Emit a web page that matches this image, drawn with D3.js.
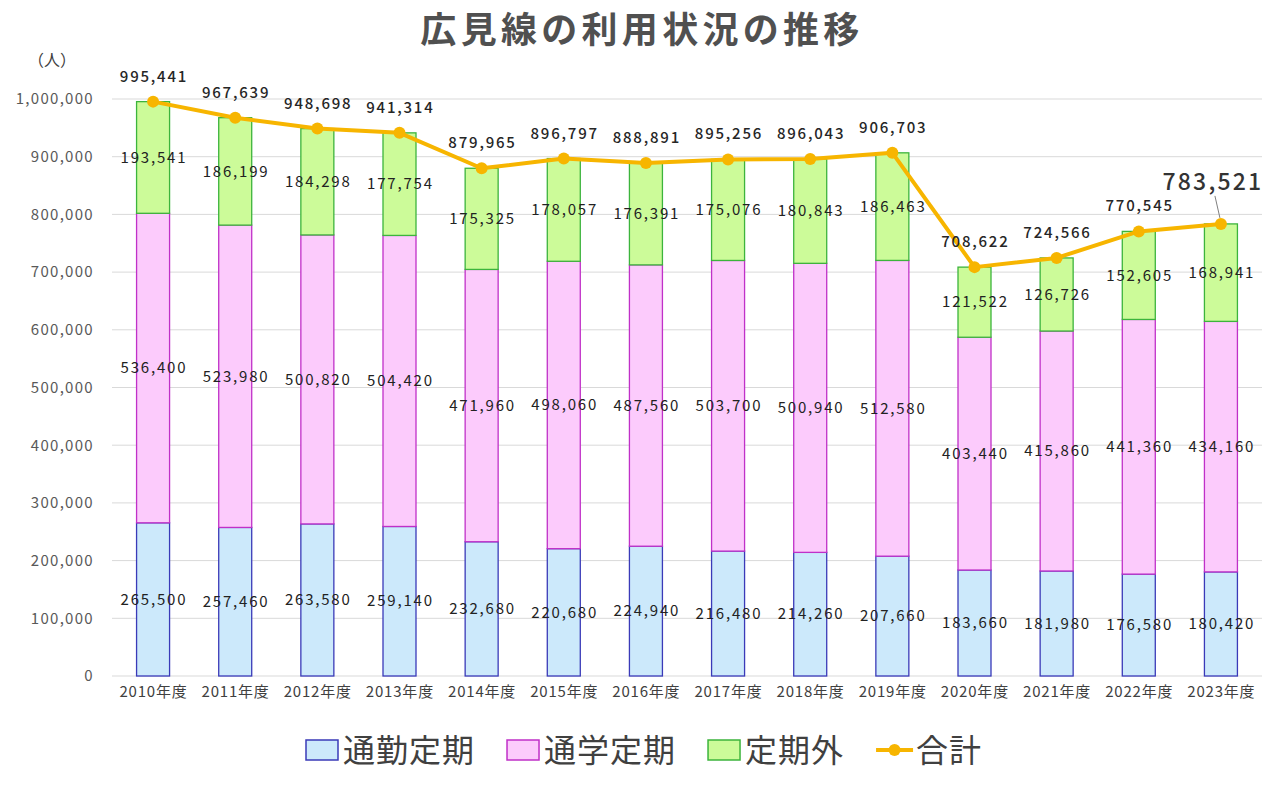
<!DOCTYPE html>
<html><head><meta charset="utf-8">
<script src="https://cdn.jsdelivr.net/npm/d3@7"></script>
<style>body{margin:0;background:#fff;}svg{display:block;}text{font-family:"Noto Sans CJK JP","Noto Sans",sans-serif;}</style>
</head><body><svg id="c" width="1280" height="786"></svg>
<script>
const years = ["2010年度","2011年度","2012年度","2013年度","2014年度","2015年度","2016年度","2017年度","2018年度","2019年度","2020年度","2021年度","2022年度","2023年度"];
const commute = [265500,257460,263580,259140,232680,220680,224940,216480,214260,207660,183660,181980,176580,180420];
const school = [536400,523980,500820,504420,471960,498060,487560,503700,500940,512580,403440,415860,441360,434160];
const nonPass = [193541,186199,184298,177754,175325,178057,176391,175076,180843,186463,121522,126726,152605,168941];
const total = [995441,967639,948698,941314,879965,896797,888891,895256,896043,906703,708622,724566,770545,783521];
const yTicks = [0,100000,200000,300000,400000,500000,600000,700000,800000,900000,1000000];
const seriesNames = ["通勤定期","通学定期","定期外","合計"];

(function(){
const svg = d3.select("#c");
const pLeft = 112, pRight = 1262, pTop = 99, pBottom = 676;
const p = 1 - 34/((pRight-pLeft)/years.length);
const x = d3.scaleBand().domain(years).range([pLeft,pRight]).paddingInner(p).paddingOuter(p/2);
const y = d3.scaleLinear().domain([0,1000000]).range([pBottom,pTop]);
const fmt = d3.format(",");
const LS = 1.8;

// grid
svg.append("g").selectAll("line").data(yTicks).join("line")
  .attr("x1",pLeft).attr("x2",pRight).attr("y1",d=>y(d)).attr("y2",d=>y(d))
  .attr("stroke","#d9d9d9").attr("stroke-width",1);

// y axis labels
const yAxis = svg.append("g").attr("transform",`translate(${pLeft},0)`)
  .call(d3.axisLeft(y).tickValues(yTicks).tickFormat(fmt).tickSize(0).tickPadding(18));
yAxis.select(".domain").remove();
yAxis.selectAll("text").attr("font-size",15).attr("letter-spacing",1.3).attr("fill","#595959").style("font-family","'Noto Sans CJK JP'");

// x axis labels
const xAxis = svg.append("g").attr("transform",`translate(0,${pBottom})`)
  .call(d3.axisBottom(x).tickSize(0).tickPadding(10));
xAxis.select(".domain").remove();
xAxis.selectAll("text").attr("font-size",15).attr("letter-spacing",0.8).attr("dx",0.4).attr("fill","#404040").style("font-family","'Noto Sans CJK JP'");

// stacked bars
const rows = years.map((yr,i)=>({yr, commute:commute[i], school:school[i], nonPass:nonPass[i]}));
const keys = ["commute","school","nonPass"];
const fills = {commute:"#cce9fb", school:"#fccbfc", nonPass:"#ccfb99"};
const strokes = {commute:"#3a3ab8", school:"#c030c8", nonPass:"#3cb43c"};
const stack = d3.stack().keys(keys)(rows);
stack.forEach(s=>{
  svg.append("g").selectAll("rect").data(s).join("rect")
    .attr("x",d=>x(d.data.yr)+0.5).attr("width",x.bandwidth()-1)
    .attr("y",d=>y(d[1])).attr("height",d=>y(d[0])-y(d[1]))
    .attr("fill",fills[s.key]).attr("stroke",strokes[s.key]).attr("stroke-width",1.3);
});
stack.forEach(s=>{
  svg.append("g").selectAll("text").data(s).join("text")
    .attr("x",d=>x(d.data.yr)+x.bandwidth()/2+LS/2).attr("y",d=>y((d[0]+d[1])/2))
    .attr("dy","0.35em").attr("text-anchor","middle").attr("font-size",15).attr("letter-spacing",LS).attr("fill","#222")
    .text(d=>fmt(d.data[s.key]));
});

// total line
const cx = i=>x(years[i])+x.bandwidth()/2;
const line = d3.line().x((d,i)=>cx(i)).y(d=>y(d));
svg.append("path").datum(total).attr("d",line).attr("fill","none").attr("stroke","#f7b500").attr("stroke-width",4).attr("stroke-linejoin","round");
svg.append("g").selectAll("circle").data(total).join("circle")
  .attr("cx",(d,i)=>cx(i)).attr("cy",d=>y(d)).attr("r",6).attr("fill","#f7b500");
const last = total.length-1;
svg.append("g").selectAll("text").data(total.slice(0,last)).join("text")
  .attr("x",(d,i)=>cx(i)+LS/2).attr("y",d=>y(d)-20).attr("text-anchor","middle")
  .attr("font-size",15).attr("font-weight",500).attr("letter-spacing",LS).attr("fill","#262626").text(d=>fmt(d));
// last total label with leader
svg.append("line").attr("x1",cx(last)-6).attr("y1",y(total[last])-28).attr("x2",cx(last)-1).attr("y2",y(total[last])-6)
  .attr("stroke","#808080").attr("stroke-width",1);
svg.append("text").attr("x",cx(last)-8).attr("y",y(total[last])-34).attr("text-anchor","middle")
  .attr("font-size",23).attr("font-weight",500).attr("letter-spacing",2.2).attr("fill","#333").text(fmt(total[last]));

// y unit
svg.append("text").attr("x",52).attr("y",66).attr("text-anchor","middle").attr("font-size",16).attr("fill","#404040").text("（人）");

// title
svg.append("text").attr("x",642).attr("y",43).attr("text-anchor","middle").attr("font-size",36).attr("font-weight",700)
  .attr("letter-spacing",4.3).attr("fill","#505050").text("広見線の利用状況の推移");

// legend
const lg = svg.append("g");
let lx = 306; const ly = 750;
const legendStyles = [
  {fill:fills.commute, stroke:strokes.commute},
  {fill:fills.school, stroke:strokes.school},
  {fill:fills.nonPass, stroke:strokes.nonPass},
  {line:"#f7b500"}];
seriesNames.forEach((nm,i)=>{
  const st = legendStyles[i];
  if(st.line){
    lg.append("line").attr("x1",lx).attr("x2",lx+37).attr("y1",ly).attr("y2",ly).attr("stroke",st.line).attr("stroke-width",4);
    lg.append("circle").attr("cx",lx+18.5).attr("cy",ly).attr("r",6).attr("fill",st.line);
    lx += 40;
  } else {
    lg.append("rect").attr("x",lx).attr("y",ly-10).attr("width",32).attr("height",20).attr("fill",st.fill).attr("stroke",st.stroke).attr("stroke-width",1.5);
    lx += 37;
  }
  const t = lg.append("text").attr("x",lx).attr("y",ly).attr("dy","0.36em").attr("font-size",32).attr("letter-spacing",1).attr("fill","#404040").text(nm);
  lx += t.node().getComputedTextLength() + 32;
});
})();
</script></body></html>
